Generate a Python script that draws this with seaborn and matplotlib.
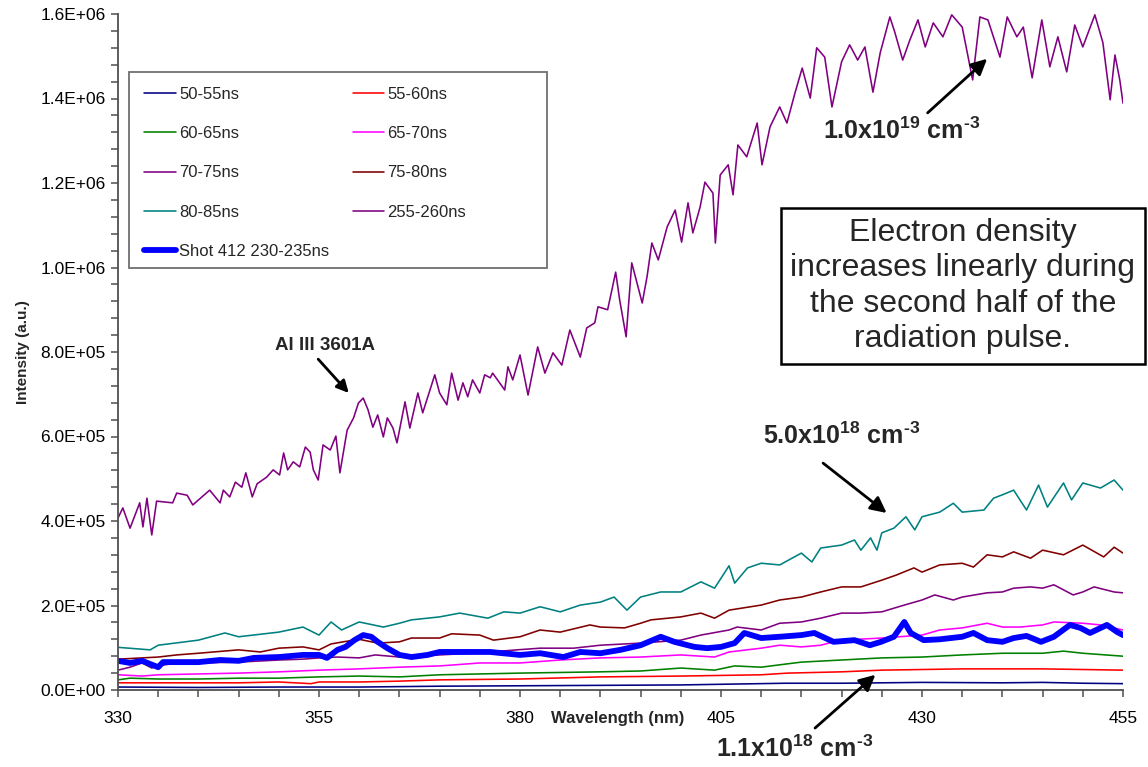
import numpy as np
import pandas as pd
import matplotlib
matplotlib.use("Agg")
import matplotlib.pyplot as plt
import matplotlib.patches as mpatches
import seaborn as sns
from matplotlib.ticker import MultipleLocator, FuncFormatter

sns.set_style("white")
plt.rcParams['font.family'] = ['Liberation Sans', 'DejaVu Sans']
plt.rcParams['mathtext.fontset'] = 'custom'
plt.rcParams['mathtext.rm'] = 'Liberation Sans'
plt.rcParams['mathtext.bf'] = 'Liberation Sans:bold'
plt.rcParams['mathtext.it'] = 'Liberation Sans:italic'

# ---------------- data (intensity in units of 1e3 a.u.) ----------------
labels = ["50-55ns", "55-60ns", "60-65ns", "65-70ns", "70-75ns",
          "75-80ns", "80-85ns", "255-260ns", "Shot 412 230-235ns"]
colors = ["#000080", "#FF0000", "#008000", "#FF00FF", "#800080",
          "#800000", "#008080", "#800080", "#0000FF"]

wl_5055 = [330, 340, 350, 360, 370, 380, 390, 400, 413, 420, 425, 430, 440, 445, 450, 455]
y_5055 = [7, 6, 7, 7, 9, 10, 11, 12, 16, 16, 17, 18, 17, 18, 16, 15]

wl_5560 = [330, 335, 340, 345, 350, 354, 355, 360, 365, 370, 380, 390, 400, 410, 413.3, 420, 425, 435, 445, 455]
y_5560 = [17, 17, 17, 17, 19, 15, 19, 19, 21, 24, 26, 31, 33, 36, 40, 43, 47, 50, 50, 47]

wl_6065 = [330, 331.5, 335, 340, 345, 350, 355, 360, 365, 370, 380, 390, 395, 400, 404.2,
           406.7, 410, 413.3, 415, 420, 425, 430, 435, 440, 445, 447.6, 450, 455]
y_6065 = [24, 28, 26, 26, 28, 28, 31, 33, 31, 36, 40, 43, 45, 52, 47,
          57, 54, 62, 66, 71, 76, 78, 83, 87, 87, 92, 87, 80]

wl_6570 = [330, 333, 335, 340, 345, 350, 355, 360, 365, 370, 371.5, 375, 380, 385, 390, 395,
           400, 404.2, 406, 410, 412.3, 415, 417.4, 419, 420, 425, 430, 432.2, 435, 438.1,
           440, 442.2, 445, 446.4, 450, 452.2, 455]
y_6570 = [36, 33, 36, 38, 40, 43, 47, 50, 54, 57, 59, 64, 64, 71, 76, 78,
          83, 78, 90, 99, 106, 102, 106, 114, 118, 123, 130, 142, 147, 158,
          149, 149, 154, 161, 158, 154, 142]

wl_7075 = [330, 331.5, 333, 334.2, 335, 337.3, 340, 345, 350, 353, 355, 357.3, 360, 362, 365,
           370, 375, 379.6, 382.5, 386.7, 390, 395, 400, 402.5, 406, 407, 410, 412.3, 415,
           417.4, 420, 422.4, 425, 427.8, 430, 431.6, 433.9, 435, 438.1, 440, 441.4, 443.5,
           445, 446.4, 448.8, 450, 451.4, 453.9, 455]
y_7075 = [47, 54, 64, 52, 57, 64, 64, 66, 71, 73, 76, 78, 76, 83, 78,
          83, 88, 95, 99, 99, 106, 111, 118, 130, 142, 149, 142, 158, 161,
          170, 182, 182, 185, 201, 213, 225, 213, 220, 230, 232, 241, 244,
          241, 249, 225, 232, 244, 232, 230]

wl_7580 = [330, 333, 335, 337.3, 340, 345, 347.7, 350, 353, 355, 356.5, 358, 360, 362.3, 365,
           366.5, 370, 371.5, 375, 376.7, 380, 382.5, 385, 388.7, 390, 393, 395, 396.3, 400,
           402.5, 404.2, 406, 410, 412.3, 415, 417.4, 420, 422.4, 425, 426.8, 429, 430,
           432.2, 435, 436.4, 438.1, 440, 441.4, 443.5, 445, 447.6, 450, 452.6, 453.9, 455]
y_7580 = [73, 76, 78, 83, 87, 95, 90, 99, 102, 95, 109, 114, 120, 111, 114,
          123, 123, 133, 130, 118, 126, 142, 137, 154, 149, 147, 158, 166, 173,
          182, 170, 189, 201, 213, 220, 232, 244, 244, 260, 272, 289, 279,
          296, 300, 291, 320, 315, 327, 312, 331, 320, 343, 315, 338, 324]

wl_8085 = [330, 334, 335, 340, 343.3, 345, 350, 353, 355, 356.5, 357.8, 360, 363, 365, 366.5,
           370, 372.5, 376, 378, 380, 382.5, 385, 387.5, 390, 391.7, 393.3, 395, 397.5, 400,
           402.5, 404.2, 406, 406.7, 408.3, 410, 412.3, 415, 416.3, 417.4, 420, 421.6, 422.4,
           423.6, 424.4, 425, 426.5, 428, 429.1, 430, 432.2, 433.9, 435, 437.7, 438.9, 440,
           441.4, 443, 444.5, 445.6, 447.6, 448.6, 450, 452.2, 453.9, 455]
y_8085 = [101, 95, 106, 118, 135, 126, 137, 149, 130, 161, 142, 161, 149, 158, 166,
          173, 182, 170, 185, 182, 197, 185, 201, 208, 220, 189, 220, 232, 232,
          256, 241, 294, 253, 289, 300, 296, 324, 303, 336, 343, 355, 331,
          360, 331, 372, 383, 410, 379, 410, 421, 442, 421, 426, 454, 462,
          473, 426, 485, 433, 490, 450, 490, 478, 497, 473]

wl_255260 = [330.0, 330.6, 331.5, 332.7, 333.1, 333.6, 334.2, 334.8, 336.8, 337.3, 338.6, 339.3,
             341.4, 342.7, 343.1, 343.9, 344.6, 345.4, 345.9, 346.7, 347.3, 348.5, 349.3, 350.1,
             350.6, 351.1, 351.8, 352.6, 353.3, 353.9, 354.3, 354.9, 355.5, 356.4, 357.1, 357.6,
             358.5, 359.3, 359.9, 360.5, 361.1, 361.7, 362.3, 363.0, 363.5, 364.2, 364.7, 365.7,
             366.3, 367.3, 367.9, 369.4, 370.0, 370.9, 371.5, 372.3, 372.9, 373.5, 374.1, 375.0,
             375.6, 376.3, 376.6, 378.1, 378.5, 379.1, 380.0, 381.0, 382.2, 383.1, 384.1, 385.2,
             386.2, 387.5, 388.3, 389.3, 389.7, 390.9, 391.9, 392.4, 393.2, 393.9, 395.2, 395.8,
             396.4, 397.2, 398.3, 399.3, 400.1, 400.9, 401.5, 402.4, 403.0, 404.0, 404.3, 404.9,
             405.9, 406.5, 407.1, 408.2, 409.5, 410.1, 411.1, 412.3, 413.2, 414.2, 415.1, 416.1,
             416.9, 417.9, 418.8, 420.0, 421.0, 422.0, 422.9, 423.9, 424.8, 426.0, 426.6, 427.6,
             428.5, 429.5, 430.4, 431.4, 432.6, 433.7, 435.0, 436.3, 437.2, 438.2, 439.7, 440.6,
             441.8, 442.6, 443.7, 444.9, 445.9, 446.9, 448.0, 449.0, 450.0, 451.5, 452.5, 453.4,
             454.0, 454.6, 455.0]
y_255260 = [407, 431, 383, 443, 386, 454, 367, 447, 443, 466, 461, 438,
            473, 443, 473, 457, 492, 480, 514, 457, 488, 504, 521, 509,
            561, 521, 540, 528, 575, 563, 521, 497, 580, 568, 601, 514,
            615, 644, 679, 691, 663, 622, 651, 599, 644, 620, 585, 682,
            620, 703, 656, 746, 703, 675, 750, 686, 727, 694, 734, 703,
            746, 739, 750, 710, 765, 734, 793, 698, 812, 750, 798, 769,
            852, 788, 857, 869, 907, 900, 989, 923, 836, 1011, 916, 978,
            1058, 1018, 1096, 1136, 1060, 1153, 1082, 1143, 1202, 1176, 1058, 1219,
            1243, 1172, 1290, 1262, 1342, 1243, 1333, 1380, 1342, 1413, 1472, 1401,
            1520, 1498, 1380, 1487, 1527, 1491, 1522, 1415, 1508, 1593, 1558, 1491,
            1539, 1586, 1522, 1579, 1546, 1598, 1569, 1444, 1593, 1586, 1498, 1593,
            1546, 1569, 1449, 1586, 1475, 1546, 1463, 1574, 1522, 1598, 1532, 1397,
            1503, 1444, 1389]

wl_shot = [330, 331.5, 333, 335, 335.6, 340, 342.7, 345, 346.9, 350, 353, 355, 356, 357.3,
           358.3, 359.4, 360.5, 361.5, 362.3, 363.5, 365, 366.5, 368.5, 370, 372.5, 376.3,
           380, 382.5, 385.4, 387.5, 390, 392.5, 395, 397.5, 399.2, 401.7, 403.3, 405, 406.7,
           407.9, 410, 412.3, 415, 416.6, 419, 421.6, 423.5, 424.9, 426.5, 427.8, 428.6,
           430.2, 432.2, 435, 436.4, 438.1, 440, 441.4, 443, 444.8, 446.4, 448.4, 449.7,
           450.9, 453, 454.3, 455]
y_shot = [69, 64, 69, 54, 66, 66, 71, 69, 76, 78, 83, 83, 76, 95,
          102, 118, 130, 126, 114, 99, 83, 78, 83, 90, 90, 90,
          83, 87, 78, 90, 87, 95, 106, 126, 114, 102, 99, 102, 111,
          135, 123, 126, 130, 135, 114, 118, 106, 114, 126, 161, 135,
          118, 120, 126, 135, 118, 114, 123, 128, 114, 126, 154, 147,
          135, 154, 137, 130]

series_wl = [wl_5055, wl_5560, wl_6065, wl_6570, wl_7075, wl_7580, wl_8085, wl_255260, wl_shot]
series_y = [y_5055, y_5560, y_6065, y_6570, y_7075, y_7580, y_8085, y_255260, y_shot]

x_ticks = [330, 355, 380, 405, 430, 455]
y_ticks = [0, 200000, 400000, 600000, 800000, 1000000, 1200000, 1400000, 1600000]

# ---------------- figure ----------------
W, H = 1148, 767
fig = plt.figure(figsize=(W / 100, H / 100), dpi=100)
ax = fig.add_axes([118 / W, 1 - 690 / H, 1005 / W, 676 / H])

for wl, yv, lab, col in zip(series_wl, series_y, labels, colors):
    lw = 4.2 if lab.startswith("Shot") else 1.15
    sns.lineplot(x=np.array(wl, dtype=float), y=np.array(yv, dtype=float) * 1e3, ax=ax,
                 color=col, linewidth=lw, label=lab, sort=False, estimator=None)

ax.set_xlim(330, 455)
ax.set_ylim(0, 1.6e6)
ax.set_xticks(x_ticks)
ax.set_yticks(y_ticks)
ax.xaxis.set_minor_locator(MultipleLocator(5))
ax.yaxis.set_minor_locator(MultipleLocator(40000))
ax.yaxis.set_major_formatter(FuncFormatter(lambda v, p: f"{v:.1E}"))
for s in ["top", "right"]:
    ax.spines[s].set_visible(False)
for s in ["left", "bottom"]:
    ax.spines[s].set_color("#505050")
    ax.spines[s].set_linewidth(1.3)
ax.tick_params(which="both", direction="out", color="#505050", width=1.1,
               left=True, bottom=True, length=5)
ax.tick_params(axis="y", which="major", labelsize=12.5, pad=4, labelcolor="black")
ax.tick_params(axis="x", which="major", labelsize=12.5, pad=10, labelcolor="black")

ax.set_xlabel("Wavelength (nm)", fontsize=12, fontweight="bold")
ax.xaxis.set_label_coords(0.497, -0.031)
ax.set_ylabel("Intensity (a.u.)", fontsize=11, fontweight="bold")
ax.yaxis.set_label_coords(-0.088, 0.5)

# legend frame (Excel-style wide box) + legend entries, read row-wise
frame = mpatches.Rectangle((0.011, 0.624), 0.416, 0.290, transform=ax.transAxes,
                           facecolor="white", edgecolor="#707070", linewidth=1.3, zorder=4)
ax.add_patch(frame)
h, l = ax.get_legend_handles_labels()
order = [0, 2, 4, 6, 8, 1, 3, 5, 7]
leg = ax.legend([h[i] for i in order], [l[i] for i in order], ncol=2,
                loc="upper left", bbox_to_anchor=(0.011, 0.914),
                fontsize=12, frameon=False, handlelength=1.9, handletextpad=0.2,
                labelspacing=1.45, borderpad=0.9, columnspacing=1.4, borderaxespad=0)
leg.set_zorder(5)

# annotations
HY = "\u2010"
arrow = dict(arrowstyle="-|>", color="black", lw=2, mutation_scale=24, shrinkA=0, shrinkB=0)
ax.annotate("", xy=(438.1, 1.494e6), xytext=(430.7, 1.366e6), arrowprops=arrow)
ax.text(427.4, 1.323e6, r"$\mathbf{1.0x10^{19}\ cm^{" + HY + r"3}}$", ha="center", va="center", fontsize=18)

ax.annotate("", xy=(425.6, 4.19e5), xytext=(417.7, 5.37e5), arrowprops=arrow)
ax.text(420.0, 6.02e5, r"$\mathbf{5.0x10^{18}\ cm^{" + HY + r"3}}$", ha="center", va="center", fontsize=18)

ax.annotate("", xy=(424.2, 0.36e5), xytext=(416.7, -0.9e5), arrowprops=arrow,
            annotation_clip=False)
ax.text(414.2, -1.39e5, r"$\mathbf{1.1x10^{18}\ cm^{" + HY + r"3}}$", ha="center", va="center",
        fontsize=18, clip_on=False)

arrow2 = dict(arrowstyle="-|>", color="black", lw=2, mutation_scale=18, shrinkA=0, shrinkB=0)
ax.annotate("", xy=(358.7, 7.03e5), xytext=(354.9, 7.83e5), arrowprops=arrow2)
ax.text(355.7, 8.15e5, "Al III 3601A", ha="center", va="center", fontsize=13.5, fontweight="bold")

fig.text(963 / W, 1 - 286 / H,
         "Electron density\nincreases linearly during\nthe second half of the\nradiation pulse.",
         ha="center", va="center", fontsize=23, linespacing=1.24, multialignment="center",
         bbox=dict(boxstyle="square,pad=0.3", fc="white", ec="black", lw=1.8))

fig.savefig("out.png", dpi=100)
